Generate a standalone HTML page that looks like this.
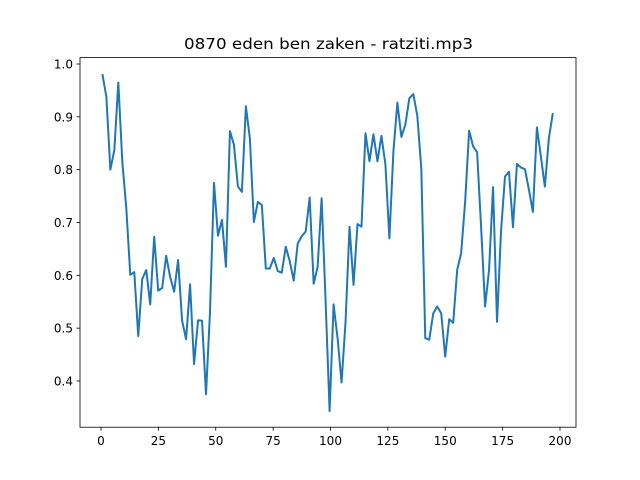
<!DOCTYPE html>
<html><head><meta charset="utf-8"><style>
body{margin:0;background:#fff}
svg{display:block;font-family:"DejaVu Sans","Liberation Sans",sans-serif}
</style></head><body>
<svg id="chart" width="640" height="480">
<rect width="640" height="480" fill="#fff"/>
<text x="184" y="49" textLength="289" lengthAdjust="spacingAndGlyphs" font-size="15.5" fill="#000">0870 eden ben zaken - ratziti.mp3</text>
<g id="xticks"></g>
<g id="yticks"></g>
<polyline id="line" fill="none" stroke="#1f77b4" stroke-width="2" stroke-linejoin="round"/>
<rect x="80" y="57.6" width="496" height="369.6" fill="none" stroke="#000" stroke-width="0.8"/>
</svg>
<script>
const xTicks=[0,25,50,75,100,125,150,175,200];
const yTicks=[0.4,0.5,0.6,0.7,0.8,0.9,1.0];
const yLabels=["0.4","0.5","0.6","0.7","0.8","0.9","1.0"];
const xStart=0.6, xStep=1.737;
const values=[0.981,0.938,0.800,0.837,0.965,0.815,0.727,0.601,0.606,0.485,0.593,0.610,0.545,0.673,0.571,0.576,0.637,0.597,0.569,0.629,0.514,0.479,0.583,0.432,0.515,0.514,0.375,0.531,0.775,0.675,0.705,0.616,0.873,0.847,0.768,0.758,0.920,
0.859,0.701,0.739,0.733,0.613,0.613,0.633,0.608,0.605,0.654,0.627,0.590,0.660,0.674,0.683,0.747,0.584,0.616,0.746,0.550,0.343,0.545,0.481,0.397,0.512,0.692,0.582,0.697,0.692,0.869,0.816,0.867,0.816,0.864,0.810,0.670,0.834,0.927,0.862,0.885,0.935,
0.943,0.902,0.803,0.481,0.478,0.528,0.541,0.528,0.446,0.517,0.510,0.610,0.642,0.739,0.874,0.844,0.833,0.692,0.541,0.610,0.767,0.512,0.683,0.787,0.796,0.691,0.811,0.804,0.801,0.762,0.720,0.880,0.825,0.768,0.859,0.907];
const X=v=>101+(v/200)*459;
const Y=v=>64+(1.0-v)*528.3;
const NS="http://www.w3.org/2000/svg";
const xg=document.getElementById('xticks'), yg=document.getElementById('yticks');
xTicks.forEach(t=>{
  const l=document.createElementNS(NS,'line');
  l.setAttribute('x1',X(t));l.setAttribute('x2',X(t));l.setAttribute('y1',427.2);l.setAttribute('y2',430.7);
  l.setAttribute('stroke','#000');l.setAttribute('stroke-width','0.8');
  
  
  xg.appendChild(l);
  const s=document.createElementNS(NS,'text');
  s.setAttribute('x',X(t));s.setAttribute('y',445);s.setAttribute('text-anchor','middle');s.setAttribute('font-size','12');
  s.textContent=t;
  
  
  xg.appendChild(s);
});
yTicks.forEach((t,i)=>{
  const l=document.createElementNS(NS,'line');
  l.setAttribute('x1',76.5);l.setAttribute('x2',80);l.setAttribute('y1',Y(t));l.setAttribute('y2',Y(t));
  l.setAttribute('stroke','#000');l.setAttribute('stroke-width','0.8');
  
  
  yg.appendChild(l);
  const s=document.createElementNS(NS,'text');
  s.setAttribute('x',73);s.setAttribute('y',Y(t)+4.5);s.setAttribute('text-anchor','end');s.setAttribute('font-size','12');
  s.textContent=yLabels[i];
  
  
  yg.appendChild(s);
});
document.getElementById('line').setAttribute('points',values.map((v,i)=>X(xStart+i*xStep).toFixed(2)+','+Y(v).toFixed(2)).join(' '));
</script>
</body></html>
